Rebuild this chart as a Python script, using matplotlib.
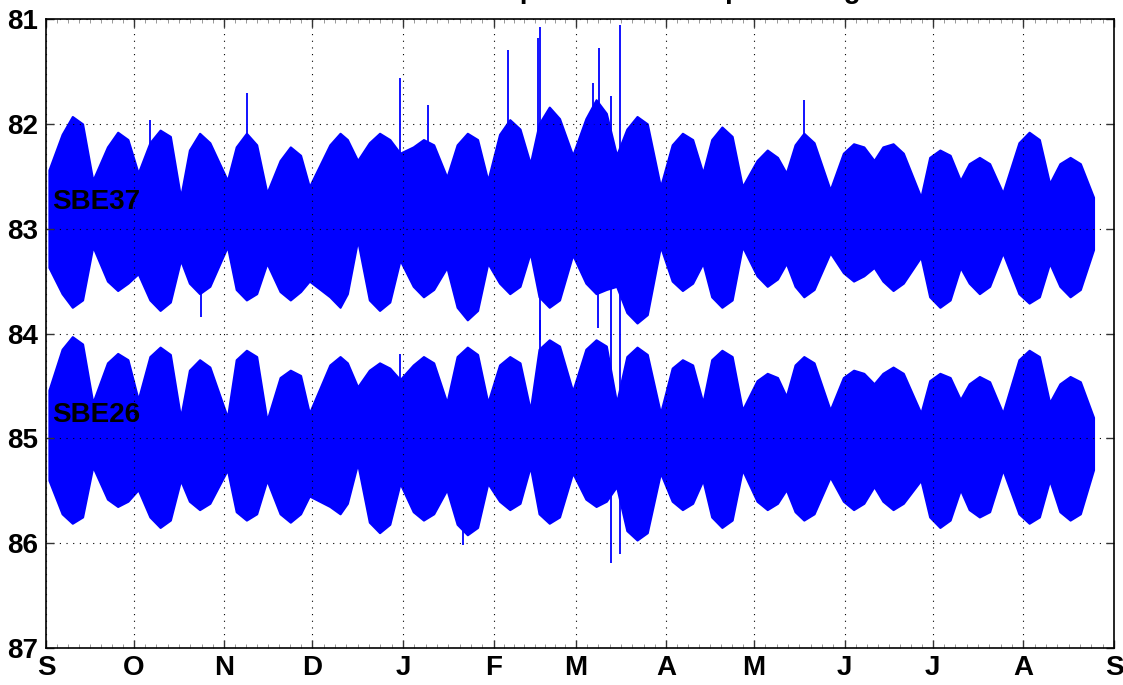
""" Pressure record, SBE37 and SBE26, Sept to Sept (spring-neap envelope)
"""

import matplotlib
matplotlib.use('Agg')
import matplotlib.pyplot as plt
import numpy as np

plt.rcParams['font.family'] = ['Liberation Sans', 'DejaVu Sans']

# Month labels and month start (day since 1 Sept)
month_labels = ['S', 'O', 'N', 'D', 'J', 'F', 'M', 'A', 'M', 'J', 'J', 'A', 'S']
month_days = [0, 30, 61, 91, 122, 153, 181, 212, 242, 273, 303, 334, 365]

# Days where the envelope was read off the picture
# (first neap, then per cycle: before spring, spring, after spring, neap)
days = [1,
        5.5, 9, 12.5, 16,        21, 24.5, 28, 31.5,      35.5, 39, 42.5, 46,
        49, 52.5, 56, 62,        65, 68.5, 72, 75.5,      80, 83.5, 87, 90,
        97, 100.5, 103, 106.5,   110.5, 114, 117.5, 121,  125.5, 129, 132.5, 137,
        140.5, 144, 147.5, 151,  155, 158.5, 162, 165.5,  168.5, 172, 175.5, 180,
        184.5, 188, 191.5, 195,  198.5, 202, 205.5, 210,  214, 217.5, 221, 224.5,
        227.5, 231, 234.5, 238,  243, 246.5, 250, 253,    256, 259, 262.5, 268,
        272.5, 276, 279.5, 283,  286, 289.5, 293, 299,    302, 305.5, 309, 312.5,
        315.5, 319, 322.5, 327,  332.5, 336, 339.5, 343,  346.5, 350, 353.5, 358]

# SBE37: upper / lower envelope of the tide
sbe37_top = [82.44,
             82.10, 81.93, 82.00, 82.54,  82.22, 82.08, 82.15, 82.47,  82.18, 82.06, 82.12, 82.70,
             82.25, 82.09, 82.18, 82.54,  82.22, 82.09, 82.20, 82.66,  82.35, 82.22, 82.30, 82.60,
             82.20, 82.09, 82.15, 82.35,  82.18, 82.09, 82.15, 82.28,  82.22, 82.15, 82.20, 82.51,
             82.20, 82.09, 82.15, 82.54,  82.10, 81.96, 82.05, 82.38,  82.00, 81.84, 81.95, 82.30,
             81.95, 81.77, 81.90, 82.30,  82.05, 81.93, 82.00, 82.60,  82.20, 82.09, 82.15, 82.47,
             82.15, 82.03, 82.12, 82.60,  82.35, 82.25, 82.32, 82.47,  82.20, 82.09, 82.18, 82.63,
             82.28, 82.19, 82.22, 82.35,  82.22, 82.19, 82.28, 82.70,  82.32, 82.25, 82.30, 82.54,
             82.38, 82.32, 82.38, 82.66,  82.18, 82.08, 82.15, 82.57,  82.38, 82.32, 82.38, 82.70]
sbe37_bot = [83.37,
             83.62, 83.75, 83.68, 83.17,  83.50, 83.59, 83.52, 83.43,  83.68, 83.78, 83.70, 83.30,
             83.52, 83.62, 83.55, 83.17,  83.58, 83.68, 83.62, 83.33,  83.60, 83.68, 83.60, 83.50,
             83.65, 83.75, 83.62, 83.11,  83.68, 83.78, 83.70, 83.30,  83.55, 83.65, 83.58, 83.37,
             83.75, 83.87, 83.78, 83.33,  83.52, 83.62, 83.55, 83.23,  83.65, 83.75, 83.68, 83.25,
             83.52, 83.62, 83.58, 83.55,  83.80, 83.90, 83.82, 83.17,  83.50, 83.59, 83.52, 83.33,
             83.65, 83.75, 83.68, 83.17,  83.45, 83.55, 83.48, 83.33,  83.55, 83.65, 83.58, 83.23,
             83.42, 83.50, 83.45, 83.37,  83.50, 83.59, 83.52, 83.27,  83.65, 83.75, 83.68, 83.37,
             83.52, 83.62, 83.55, 83.23,  83.62, 83.71, 83.65, 83.33,  83.55, 83.65, 83.58, 83.20]

# SBE26: upper / lower envelope
sbe26_top = [84.54,
             84.15, 84.03, 84.10, 84.66,  84.28, 84.19, 84.25, 84.63,  84.22, 84.13, 84.20, 84.80,
             84.35, 84.25, 84.32, 84.80,  84.25, 84.16, 84.22, 84.83,  84.42, 84.35, 84.40, 84.76,
             84.30, 84.22, 84.28, 84.51,  84.35, 84.28, 84.33, 84.44,  84.30, 84.22, 84.28, 84.66,
             84.22, 84.13, 84.20, 84.66,  84.30, 84.22, 84.28, 84.73,  84.15, 84.06, 84.12, 84.55,
             84.15, 84.06, 84.12, 84.66,  84.22, 84.13, 84.20, 84.76,  84.33, 84.25, 84.30, 84.66,
             84.25, 84.16, 84.22, 84.73,  84.45, 84.38, 84.42, 84.60,  84.30, 84.22, 84.28, 84.73,
             84.42, 84.35, 84.38, 84.48,  84.38, 84.32, 84.38, 84.76,  84.45, 84.38, 84.42, 84.63,
             84.48, 84.41, 84.46, 84.76,  84.25, 84.16, 84.22, 84.66,  84.48, 84.41, 84.46, 84.80]
sbe26_bot = [85.40,
             85.72, 85.81, 85.75, 85.27,  85.58, 85.65, 85.60, 85.49,  85.75, 85.85, 85.78, 85.40,
             85.60, 85.68, 85.62, 85.30,  85.70, 85.78, 85.72, 85.40,  85.72, 85.80, 85.72, 85.55,
             85.65, 85.72, 85.62, 85.24,  85.80, 85.90, 85.82, 85.43,  85.70, 85.78, 85.72, 85.49,
             85.82, 85.92, 85.85, 85.43,  85.60, 85.68, 85.62, 85.27,  85.72, 85.81, 85.75, 85.33,
             85.58, 85.65, 85.60, 85.46,  85.88, 85.97, 85.90, 85.33,  85.60, 85.68, 85.62, 85.40,
             85.75, 85.85, 85.78, 85.30,  85.60, 85.68, 85.62, 85.49,  85.70, 85.78, 85.72, 85.37,
             85.60, 85.68, 85.62, 85.46,  85.60, 85.68, 85.62, 85.40,  85.75, 85.85, 85.78, 85.49,
             85.68, 85.75, 85.70, 85.30,  85.72, 85.81, 85.75, 85.40,  85.70, 85.78, 85.72, 85.30]

# Isolated spikes: day, from, to
spike_days = [35.5, 68.7, 121, 130.5, 158, 168, 169, 187, 189, 193, 196, 259,
              53, 169, 188.5, 142.5, 169, 121]
spike_from = [82.9, 82.9, 82.9, 82.9, 82.9, 82.9, 82.9, 82.9, 82.9, 81.73, 81.06, 82.9,
              83.0, 83.0, 83.0, 85.0, 85.0, 85.0]
spike_to = [81.96, 81.71, 81.56, 81.82, 81.30, 81.18, 81.08, 81.61, 81.28, 86.19, 86.10, 81.77,
            83.84, 84.06, 83.95, 86.02, 83.87, 84.20]

blue = '#0000ff'

fig = plt.figure(figsize=(11.23, 6.85), dpi=100)
ax = fig.add_axes([46/1123, 37/685, 1068/1123, 629/685])

ax.fill_between(days, sbe37_top, sbe37_bot, color=blue, lw=1.5, edgecolor=blue)
ax.fill_between(days, sbe26_top, sbe26_bot, color=blue, lw=1.5, edgecolor=blue)
ax.vlines(spike_days, spike_from, spike_to, color=blue, lw=1.3)

ax.text(2.2, 82.75, 'SBE37', fontsize=20, fontweight='bold', va='center', ha='left')
ax.text(2.0, 84.78, 'SBE26', fontsize=20, fontweight='bold', va='center', ha='left')

ax.set_xlim(month_days[0], month_days[-1])
ax.set_ylim(87, 81)
ax.set_xticks(month_days)
ax.set_xticklabels(month_labels)
ax.set_yticks([81, 82, 83, 84, 85, 86, 87])

# minor ticks: 8 per month
minor = []
for a, b in zip(month_days[:-1], month_days[1:]):
    minor += list(np.linspace(a, b, 9)[1:-1])
ax.set_xticks(minor, minor=True)

ax.tick_params(which='major', direction='in', length=6, width=1, top=True, right=True,
               labelsize=20, colors='#333333', labelcolor='black')
ax.tick_params(axis='x', which='major', pad=5)
ax.tick_params(axis='y', which='major', pad=6)
ax.tick_params(which='minor', direction='in', length=3, width=0.6, top=True, right=False,
               colors='#888888')
for lab in ax.get_xticklabels() + ax.get_yticklabels():
    lab.set_fontweight('bold')
ax.grid(True, which='major', linestyle=(0, (1, 5)), color='black', lw=0.8)
for s in ax.spines.values():
    s.set_linewidth(1.2)

fig.text(580/1123, 1.003, 'NSE 2010-2011 : pressure at deep mooring', fontsize=20,
         fontweight='bold', ha='center', va='baseline')

plt.savefig('out.png', dpi=100)
